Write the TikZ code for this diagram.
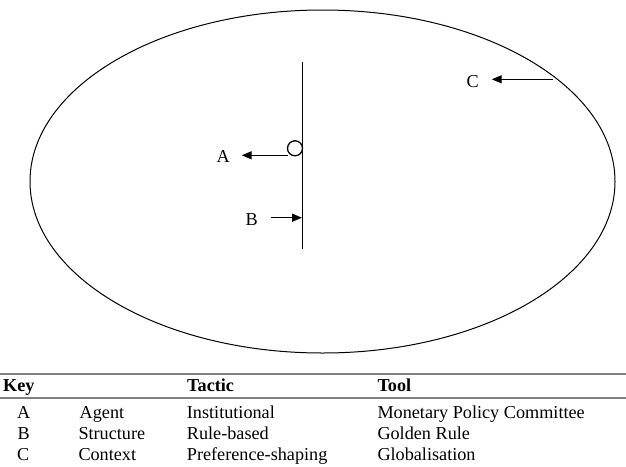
\documentclass[tikz,border=0pt]{standalone}
\usepackage{fontspec}
\setmainfont{Liberation Serif}
\usetikzlibrary{arrows.meta}
\begin{document}
\begin{tikzpicture}[x=1pt,y=-1pt,
  txt/.style={font=\fontsize{18.2}{21}\selectfont, inner sep=0pt},
  cell/.style={txt, anchor=base west},
  hcell/.style={cell, font=\fontsize{18.2}{21}\selectfont\bfseries},
  arr/.style={-{Triangle[length=10pt,width=8pt]}, line width=1.3pt},
  rulel/.style={draw={rgb,255:red,128;green,128;blue,128}, line width=2pt}]
\useasboundingbox (0,0) rectangle (626,466);
% context ellipse
\draw[line width=1pt] (322.5,181.5) ellipse [x radius=292.5, y radius=171.5];
% structure line
\coordinate (vtop) at (302.5,61.7);
\coordinate (vbot) at (302.5,249);
\draw[line width=1.3pt] (vtop) -- (vbot);
% agent circle
\node[circle, draw, line width=1.3pt, minimum size=15pt, inner sep=0pt] (circ) at (295,148.3) {};
% labels
\node[txt] (la) at (223.3,156.5) {A};
\node[txt] (lb) at (251.7,219.3) {B};
\node[txt] (lc) at (472.7,81.7) {C};
% arrows
\coordinate (aS) at (287.8,155.3);
\coordinate (aE) at (241.7,155.3);
\draw[arr] (aS) -- (aE);
\coordinate (bS) at (271,217.7);
\coordinate (bE) at (302,217.7);
\draw[arr] (bS) -- (bE);
\coordinate (cS) at (553.3,79.3);
\coordinate (cE) at (491.7,79.3);
\draw[arr] (cS) -- (cE);
% key table
\coordinate (r1L) at (0,374.3);
\coordinate (r1R) at (626,374.3);
\coordinate (r2L) at (0,398.3);
\coordinate (r2R) at (626,398.3);
\draw[rulel] (r1L) -- (r1R);
\draw[rulel] (r2L) -- (r2R);
\node[hcell] (hk) at (3,391.5) {Key};
\node[hcell] (ht) at (187,391.5) {Tactic};
\node[hcell] (hto) at (377.3,391.5) {Tool};
\node[cell] (a1) at (17,418.5) {A};
\node[cell] (a2) at (79.5,418.5) {Agent};
\node[cell] (a3) at (186.7,418.5) {Institutional};
\node[cell] (a4) at (377.3,418.5) {Monetary Policy Committee};
\node[cell] (b1) at (17.5,439.2) {B};
\node[cell] (b2) at (78.3,439.2) {Structure};
\node[cell] (b3) at (186.7,439.2) {Rule-based};
\node[cell] (b4) at (377.3,439.2) {Golden Rule};
\node[cell] (c1) at (17,460) {C};
\node[cell] (c2) at (78.3,460) {Context};
\node[cell] (c3) at (186.7,460) {Preference-shaping};
\node[cell] (c4) at (377.3,460) {Globalisation};
\end{tikzpicture}
\end{document}
